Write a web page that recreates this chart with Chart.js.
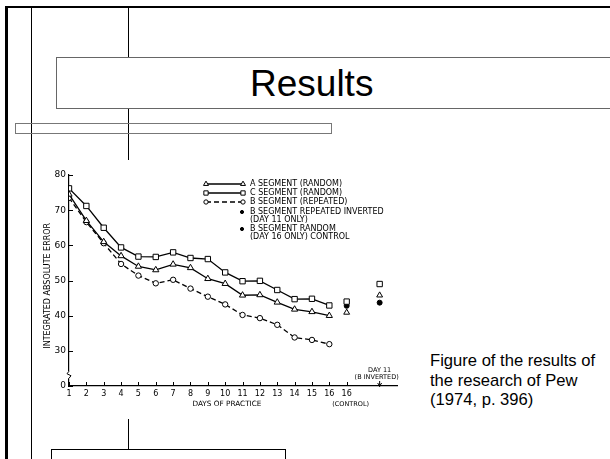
<!DOCTYPE html>
<html>
<head>
<meta charset="utf-8">
<script src="https://cdn.jsdelivr.net/npm/chart.js@4"></script>
<style>
  html, body { margin: 0; padding: 0; background: #fff; }
  #slide { position: relative; width: 610px; height: 459px; overflow: hidden; background: #fff; }
  .ln { position: absolute; background: #000; }
  .box { position: absolute; box-sizing: border-box; }
  #title { left: 56px; top: 57px; width: 600px; height: 52px; border: 1px solid #666; background: #fff;
           font: 37px "Liberation Sans", Arial, sans-serif; }
  #title span { position: absolute; left: 193px; top: 5px; }
  #caption { position: absolute; left: 430px; top: 351px; font: 16.6px "Liberation Sans", Arial, sans-serif;
             line-height: 19.5px; color: #000; }
  #chartWrap { position: absolute; left: 40px; top: 160px; width: 380px; height: 258px; background: #fff; }
</style>
</head>
<body>
<div id="slide">
  <!-- frame lines -->
  <div class="ln" style="left:5px; top:6px; width:3px; height:460px"></div>
  <div class="ln" style="left:5px; top:6px; width:610px; height:2px"></div>
  <div class="ln" style="left:31px; top:7px; width:1px; height:460px"></div>
  <div class="ln" style="left:128px; top:7px; width:1px; height:153px"></div>
  <div class="ln" style="left:128px; top:419px; width:1px; height:30px"></div>
  <div class="box" id="title"><span>Results</span></div>
  <div class="box" style="left:15px; top:123px; width:317px; height:11px; border:1px solid #777;"></div>
  <div class="box" style="left:51px; top:449px; width:235px; height:30px; border:1px solid #000; background:#fff;"></div>
  <div id="chartWrap"><canvas id="myChart" width="380" height="258"></canvas></div>
  <div id="caption">Figure of the results of<br>the research of Pew<br>(1974, p. 396)</div>
</div>
<script>
// 데이터
const days = [1, 2, 3, 4, 5, 6, 7, 8, 9, 10, 11, 12, 13, 14, 15, 16];
const segA = [74.5, 67.0, 61.0, 57.0, 54.0, 53.0, 54.6, 53.6, 50.5, 49.1, 45.8, 45.9, 43.8, 41.8, 41.1, 40.0];
const segC = [76.2, 71.2, 65.0, 59.4, 56.8, 56.7, 58.0, 56.4, 56.1, 52.3, 49.8, 49.9, 47.3, 44.7, 44.8, 42.9];
const segB = [73.5, 66.6, 60.6, 54.7, 51.4, 49.2, 50.2, 47.7, 45.4, 43.2, 40.2, 39.3, 37.4, 33.8, 33.1, 31.9];

// 16일 통제(control) / 11일 반전(inverted) 위치
const controlDay = 17;
const invertedDay = 18.9;
const controlA = 40.9, controlC = 44.0, controlBRandom = 42.8;
const invertedA = 45.8, invertedC = 49.0, invertedB = 43.7;

const xTickValues = [1, 2, 3, 4, 5, 6, 7, 8, 9, 10, 11, 12, 13, 14, 15, 16, 17];
const xTickLabels = ['1', '2', '3', '4', '5', '6', '7', '8', '9', '10', '11', '12', '13', '14', '15', '16', '16'];
const yTickValues = [20, 30, 40, 50, 60, 70, 80];
const yTickLabels = ['0', '30', '40', '50', '60', '70', '80'];

const legendLabels = ['A SEGMENT (RANDOM)', 'C SEGMENT (RANDOM)', 'B SEGMENT (REPEATED)'];
const legendDots = [['B SEGMENT REPEATED INVERTED', '(DAY 11 ONLY)'], ['B SEGMENT RANDOM', '(DAY 16 ONLY) CONTROL']];

const FONT = '"DejaVu Sans", sans-serif';

const toPts = (xs, ys) => xs.map((x, i) => ({ x: x, y: ys[i] }));

const base = { borderColor: '#000', pointBorderColor: '#000', pointBackgroundColor: '#fff',
               pointBorderWidth: 1, borderWidth: 1.3, tension: 0 };

const data_grap = {
    datasets: [
        Object.assign({}, base, { label: 'A', data: toPts(days, segA), pointStyle: 'triangle', pointRadius: 3.6 }),
        Object.assign({}, base, { label: 'C', data: toPts(days, segC), pointStyle: 'rect', pointRadius: 3.8 }),
        Object.assign({}, base, { label: 'B', data: toPts(days, segB), pointStyle: 'circle', pointRadius: 2.7, borderDash: [5, 3] }),
        Object.assign({}, base, { label: 'A extra', showLine: false, pointStyle: 'triangle', pointRadius: 3.4,
            data: [{ x: controlDay, y: controlA }, { x: invertedDay, y: invertedA }] }),
        Object.assign({}, base, { label: 'C extra', showLine: false, pointStyle: 'rect', pointRadius: 3.8,
            data: [{ x: controlDay, y: controlC }, { x: invertedDay, y: invertedC }] }),
        Object.assign({}, base, { label: 'B inverted', showLine: false, pointStyle: 'circle', pointRadius: 2.5,
            pointBackgroundColor: '#000', data: [{ x: invertedDay, y: invertedB }] }),
        Object.assign({}, base, { label: 'B control', showLine: false, pointStyle: 'circle', pointRadius: 2.5,
            pointBackgroundColor: '#000', data: [{ x: controlDay, y: controlBRandom }] })
    ]
};

function marker(ctx, style, x, y, r, fill) {
    ctx.save();
    ctx.beginPath();
    if (style === 'rect') {
        const s = r / Math.SQRT2;
        ctx.rect(x - s, y - s, 2 * s, 2 * s);
    } else if (style === 'triangle') {
        ctx.moveTo(x, y - r);
        ctx.lineTo(x + r * 0.87, y + r * 0.5);
        ctx.lineTo(x - r * 0.87, y + r * 0.5);
        ctx.closePath();
    } else {
        ctx.arc(x, y, r, 0, Math.PI * 2);
    }
    ctx.fillStyle = fill;
    ctx.fill();
    ctx.lineWidth = 1;
    ctx.strokeStyle = '#000';
    ctx.setLineDash([]);
    ctx.stroke();
    ctx.restore();
}

// 축 눈금, 꺾임 표시, 주석, 범례
const decor = {
    id: 'decor',
    afterDraw(chart) {
        const { ctx, chartArea: a, scales: { x, y } } = chart;
        ctx.save();
        ctx.strokeStyle = '#000';
        ctx.lineWidth = 1;
        // 안쪽 눈금
        yTickValues.forEach(v => {
            const py = Math.round(y.getPixelForValue(v)) + 0.5;
            ctx.beginPath(); ctx.moveTo(a.left, py); ctx.lineTo(a.left + 4, py); ctx.stroke();
        });
        xTickValues.forEach(v => {
            const px = Math.round(x.getPixelForValue(v)) + 0.5;
            ctx.beginPath(); ctx.moveTo(px, a.bottom); ctx.lineTo(px, a.bottom - 4); ctx.stroke();
        });
        // 축 꺾임
        const b1 = y.getPixelForValue(24.2), b2 = y.getPixelForValue(22.2);
        ctx.fillStyle = '#fff';
        ctx.fillRect(a.left - 2, b1, 4, b2 - b1);
        ctx.beginPath();
        ctx.moveTo(a.left, b1);
        ctx.lineTo(a.left - 2, b1 + 2.5);
        ctx.lineTo(a.left + 2, b2 - 2.5);
        ctx.lineTo(a.left, b2);
        ctx.stroke();

        ctx.fillStyle = '#000';
        // 축 제목
        ctx.font = '8px ' + FONT;
        ctx.textAlign = 'center';
        ctx.textBaseline = 'middle';
        ctx.save();
        ctx.translate(8, y.getPixelForValue(48.5));
        ctx.rotate(-Math.PI / 2);
        ctx.fillText('INTEGRATED ABSOLUTE ERROR', 0, 0);
        ctx.restore();
        ctx.font = '7.3px ' + FONT;
        ctx.fillText('DAYS OF PRACTICE', x.getPixelForValue(10.1), a.bottom + 18);
        ctx.font = '6.5px ' + FONT;
        ctx.fillText('(CONTROL)', x.getPixelForValue(controlDay) + 4, a.bottom + 18);
        // 11일 반전 화살표
        const ax = x.getPixelForValue(invertedDay);
        ctx.fillText('DAY 11', ax, a.bottom - 16);
        ctx.fillText('(B INVERTED)', ax - 3, a.bottom - 9);
        ctx.beginPath(); ctx.moveTo(ax, a.bottom - 5); ctx.lineTo(ax, a.bottom + 1); ctx.stroke();
        ctx.beginPath(); ctx.moveTo(ax - 2, a.bottom - 3); ctx.lineTo(ax, a.bottom); ctx.lineTo(ax + 2, a.bottom - 3); ctx.stroke();

        // 범례
        ctx.font = '8px ' + FONT;
        ctx.textAlign = 'left';
        const lx1 = 166, lx2 = 203, tx = 210;
        const rows = [24, 33, 42];
        [0, 1, 2].forEach(i => {
            const ds = chart.data.datasets[i];
            ctx.save();
            ctx.lineWidth = 1.3;
            ctx.setLineDash(ds.borderDash || []);
            ctx.beginPath(); ctx.moveTo(lx1, rows[i]); ctx.lineTo(lx2, rows[i]); ctx.stroke();
            ctx.restore();
            marker(ctx, ds.pointStyle, lx1, rows[i], ds.pointRadius * 0.8, '#fff');
            marker(ctx, ds.pointStyle, lx2, rows[i], ds.pointRadius * 0.8, '#fff');
            ctx.fillText(legendLabels[i], tx, rows[i]);
        });
        const dotRows = [52, 69];
        legendDots.forEach((lines, i) => {
            marker(ctx, 'circle', 202, dotRows[i], 1.6, '#000');
            ctx.fillText(lines[0], tx, dotRows[i]);
            ctx.fillText(lines[1], tx, dotRows[i] + 7.5);
        });
        ctx.restore();
    }
};

// 차트 옵션
const options_grap = {
    responsive: false,
    maintainAspectRatio: false,
    animation: false,
    layout: { padding: { top: 15, right: 23, left: 0, bottom: 0 } },
    plugins: { legend: { display: false }, tooltip: { enabled: false } },
    scales: {
        x: {
            type: 'linear', min: 1, max: 19.9,
            afterFit: s => { s.height = 32; },
            afterBuildTicks: s => { s.ticks = xTickValues.map(v => ({ value: v })); },
            grid: { display: false, drawTicks: false },
            border: { color: '#000', width: 1.2 },
            ticks: { autoSkip: false, maxRotation: 0, padding: 3, color: '#000',
                     font: { family: FONT, size: 8 },
                     callback: (v, i) => xTickLabels[i] }
        },
        y: {
            type: 'linear', min: 20, max: 80,
            afterFit: s => { s.width = 29; },
            afterBuildTicks: s => { s.ticks = yTickValues.map(v => ({ value: v })); },
            grid: { display: false, drawTicks: false },
            border: { color: '#000', width: 1.2 },
            ticks: { padding: 3, color: '#000', font: { family: FONT, size: 9 },
                     callback: (v, i) => yTickLabels[i] }
        }
    }
};

// 차트 생성
const ctx_grap = document.getElementById('myChart').getContext('2d');
const myChart_grap = new Chart(ctx_grap, {
    type: 'line',
    data: data_grap,
    options: options_grap,
    plugins: [decor]
});
</script>
</body>
</html>
